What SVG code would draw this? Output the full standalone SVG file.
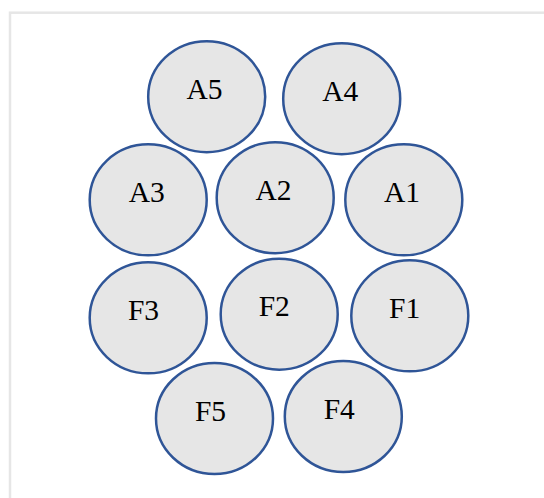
<svg xmlns="http://www.w3.org/2000/svg" width="544" height="498" viewBox="0 0 544 498">
<style>
.n ellipse{fill:#e6e6e6;stroke:#2f5597;stroke-width:2.5}
.n text{font-family:"Liberation Serif","Times New Roman",serif;font-size:29.5px;fill:#000;text-anchor:middle}
</style>
<rect x="0" y="0" width="544" height="498" fill="#fff"/>
<rect x="10" y="12.7" width="540" height="500" fill="none" stroke="#e6e6e6" stroke-width="2.5"/>
<g id="connectors"></g>
<g id="A5" class="n"><ellipse cx="206.7" cy="96.7" rx="58.5" ry="55.5"/><text x="204.5" y="99">A5</text></g>
<g id="A4" class="n"><ellipse cx="341.7" cy="98.7" rx="58.5" ry="55.5"/><text x="340.3" y="101">A4</text></g>
<g id="A3" class="n"><ellipse cx="148.2" cy="199.8" rx="58.5" ry="55.5"/><text x="146.7" y="202.3">A3</text></g>
<g id="A2" class="n"><ellipse cx="275.2" cy="197.7" rx="58.5" ry="55.5"/><text x="273.5" y="200">A2</text></g>
<g id="A1" class="n"><ellipse cx="403.8" cy="199.8" rx="58.5" ry="55.5"/><text x="402" y="202.3">A1</text></g>
<g id="F3" class="n"><ellipse cx="148.2" cy="317.8" rx="58.5" ry="55.5"/><text x="143.5" y="320">F3</text></g>
<g id="F2" class="n"><ellipse cx="279.2" cy="314.2" rx="58.5" ry="55.5"/><text x="274.3" y="315.7">F2</text></g>
<g id="F1" class="n"><ellipse cx="409.8" cy="315.8" rx="58.5" ry="55.5"/><text x="404.7" y="318.3">F1</text></g>
<g id="F5" class="n"><ellipse cx="214.5" cy="418.5" rx="58.5" ry="55.5"/><text x="210.5" y="420.7">F5</text></g>
<g id="F4" class="n"><ellipse cx="343.3" cy="416.5" rx="58.5" ry="55.5"/><text x="339.3" y="419">F4</text></g>
</svg>
